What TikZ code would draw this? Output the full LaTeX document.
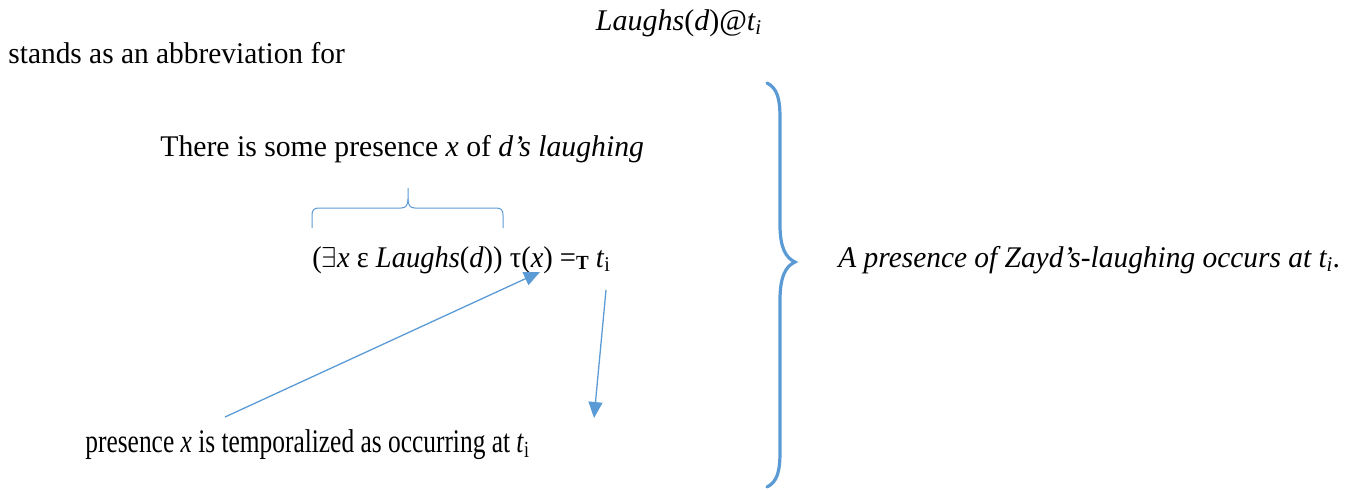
\documentclass[tikz,border=0pt]{standalone}
\usepackage{fontspec}
\setmainfont{Liberation Serif}
\usetikzlibrary{arrows.meta}

\definecolor{braceblue}{HTML}{5B9BD5}
\tikzset{
  gloss/.style={inner sep=0pt, font=\fontsize{15}{18}\selectfont},
  tallgloss/.style={inner sep=0pt, font=\fontsize{16.5}{20}\selectfont},
  pointer/.style={draw=braceblue, line width=0.65pt, -{Triangle[length=8pt,width=7pt]}},
  thinbrace/.style={draw=braceblue, line width=0.5pt},
  bigbrace/.style={draw=braceblue, line width=1.6pt, line cap=round},
}

\begin{document}
\begin{tikzpicture}[x=0.5pt,y=-0.5pt]
\useasboundingbox (0,0) rectangle (1355,489);

% texts
\node[gloss, anchor=base] (head) at (679,30)
  {\textit{Laughs}(\textit{d})@\textit{t\textsubscript{i}}};
\node[gloss, anchor=base west] (abbrev) at (8,63)
  {\scalebox{0.98}[1]{stands as an abbreviation for}};
\node[gloss, anchor=base west] (gloss1) at (160,156)
  {\scalebox{0.99}[1]{There is some presence \textit{x} of \textit{d’s laughing}}};
\node[gloss, anchor=base west] (formula) at (312,267)
  {\scalebox{0.95}[1]{($\exists$\textit{x} ε \textit{Laughs}(\textit{d})) τ(\textit{x}) =\raisebox{-0.15ex}{\fontsize{10}{10}\selectfont\textbf{T}} \textit{t}\textsubscript{i}}};
\node[tallgloss, anchor=base west] (gloss2) at (85,452)
  {\scalebox{0.77}[1]{presence \textit{x} is temporalized as occurring at \textit{t}\textsubscript{i}}};
\node[gloss, anchor=base west] (reading) at (838,267)
  {\scalebox{0.98}[1]{\textit{A presence of Zayd’s-laughing occurs at t\textsubscript{i}.}}};

% arrow ends
\coordinate (taupt) at (540,272);
\coordinate (gloss2pt) at (225,417);
\coordinate (tipt) at (606,290);
\coordinate (endpt) at (594,418);

\draw[pointer] (gloss2pt) -- (taupt);
\draw[pointer] (tipt) -- (endpt);

% small brace over the quantifier
\draw[thinbrace] (312,228) -- (312,215) .. controls (312,210) and (314,208) .. (319,208)
  -- (401,208) .. controls (406,208) and (408,205) .. (408,199) -- (408,188);
\draw[thinbrace] (408,199) .. controls (408,205) and (410,208) .. (415,208)
  -- (496,208) .. controls (501,208) and (503,210) .. (503,215) -- (503,228);

% big brace
\draw[bigbrace] (767,83) .. controls (777,88) and (780,98) .. (780,118)
  -- (780,225) .. controls (780,248) and (786,258) .. (795,262)
  .. controls (786,266) and (780,276) .. (780,300)
  -- (780,452) .. controls (780,472) and (777,482) .. (767,487);
\end{tikzpicture}
\end{document}
